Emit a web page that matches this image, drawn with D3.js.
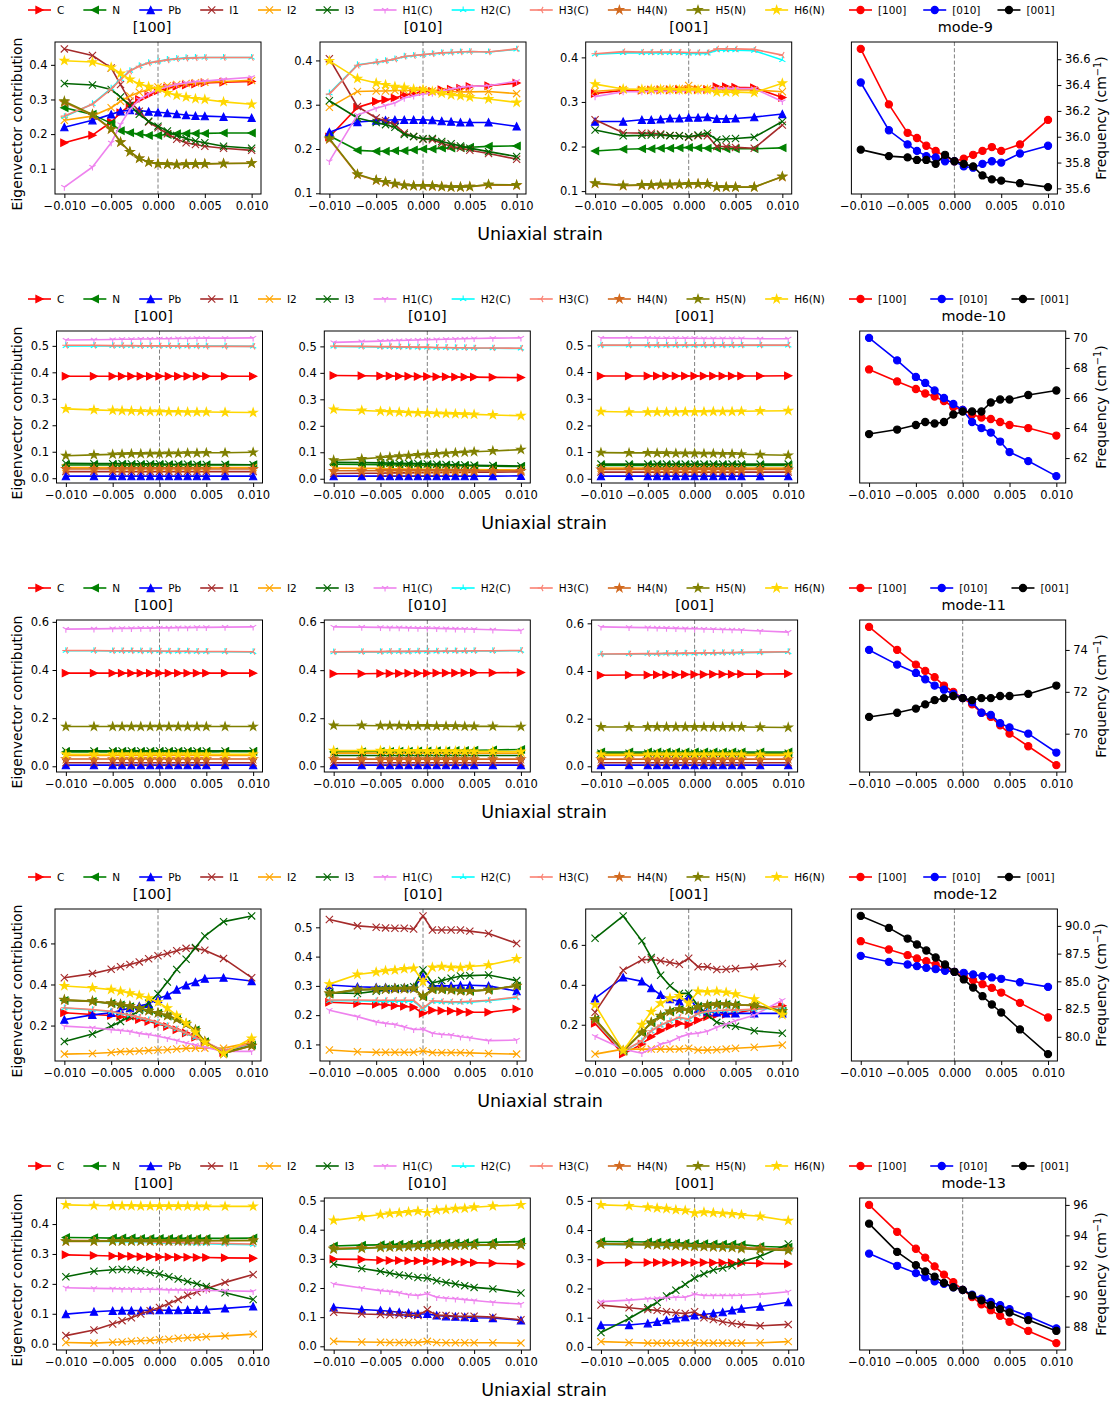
<!DOCTYPE html>
<html>
<head>
<meta charset="utf-8">
<script src="https://cdn.jsdelivr.net/npm/d3@7"></script>
<style>
  html, body { margin: 0; padding: 0; background: #fff; }
  svg { display: block; font-family: "DejaVu Sans", sans-serif; }
</style>
</head>
<body>
<svg id="fig" width="1120" height="1405"></svg>
<script>
// ---- strain grid and labels ----
const strain = [-0.010, -0.007, -0.005, -0.004, -0.003, -0.002, -0.001, 0.000, 0.001, 0.002, 0.003, 0.004, 0.005, 0.007, 0.010];
const species = ["C", "N", "Pb", "I1", "I2", "I3", "H1(C)", "H2(C)", "H3(C)", "H4(N)", "H5(N)", "H6(N)"];
const directions = ["[100]", "[010]", "[001]"];
const strainTicks = [-0.010, -0.005, 0.000, 0.005, 0.010];
const strainTickLabels = ["\u22120.010", "\u22120.005", "0.000", "0.005", "0.010"];

// ---- mode-9 eigenvector contributions ----
const m9_100 = {
  "C":     [0.175,0.197,0.235,0.262,0.283,0.300,0.313,0.325,0.333,0.338,0.342,0.345,0.348,0.350,0.352],
  "N":     [0.276,0.257,0.231,0.210,0.204,0.200,0.196,0.196,0.199,0.201,0.202,0.202,0.202,0.203,0.203],
  "Pb":    [0.220,0.240,0.257,0.266,0.269,0.268,0.265,0.263,0.261,0.258,0.255,0.253,0.252,0.250,0.247],
  "I1":    [0.446,0.427,0.391,0.343,0.295,0.266,0.235,0.218,0.201,0.185,0.175,0.170,0.165,0.159,0.153],
  "I2":    [0.240,0.252,0.276,0.295,0.310,0.321,0.329,0.336,0.340,0.343,0.346,0.348,0.350,0.352,0.355],
  "I3":    [0.346,0.342,0.329,0.307,0.283,0.257,0.237,0.223,0.209,0.196,0.187,0.180,0.175,0.165,0.159],
  "H1(C)": [0.047,0.105,0.175,0.228,0.271,0.300,0.316,0.329,0.337,0.343,0.348,0.351,0.353,0.358,0.364],
  "H2(C)": [0.250,0.287,0.332,0.359,0.383,0.397,0.406,0.410,0.415,0.418,0.420,0.421,0.421,0.421,0.421],
  "H3(C)": [0.252,0.286,0.330,0.357,0.382,0.396,0.405,0.410,0.414,0.417,0.419,0.420,0.421,0.421,0.421],
  "H4(N)": [0.292,0.255,0.214,0.176,0.149,0.130,0.119,0.114,0.113,0.112,0.113,0.113,0.114,0.115,0.116],
  "H5(N)": [0.295,0.257,0.215,0.177,0.149,0.130,0.119,0.114,0.113,0.112,0.113,0.114,0.114,0.115,0.116],
  "H6(N)": [0.412,0.408,0.393,0.375,0.358,0.345,0.337,0.331,0.319,0.312,0.307,0.302,0.300,0.293,0.286]
};
const m9_010 = {
  "C":     [0.227,0.294,0.307,0.311,0.315,0.322,0.326,0.330,0.330,0.334,0.335,0.337,0.341,0.343,0.349],
  "N":     [0.230,0.197,0.195,0.195,0.196,0.196,0.198,0.200,0.200,0.202,0.202,0.203,0.204,0.206,0.207],
  "Pb":    [0.238,0.261,0.264,0.265,0.266,0.266,0.266,0.266,0.265,0.263,0.262,0.260,0.260,0.260,0.251],
  "I1":    [0.404,0.296,0.270,0.264,0.255,0.236,0.228,0.222,0.221,0.213,0.206,0.202,0.197,0.190,0.177],
  "I2":    [0.294,0.330,0.331,0.331,0.332,0.332,0.332,0.334,0.331,0.330,0.330,0.329,0.329,0.330,0.325],
  "I3":    [0.309,0.270,0.260,0.255,0.249,0.233,0.228,0.223,0.224,0.217,0.212,0.207,0.202,0.194,0.183],
  "H1(C)": [0.172,0.277,0.292,0.298,0.304,0.315,0.320,0.324,0.326,0.331,0.335,0.339,0.341,0.343,0.353],
  "H2(C)": [0.326,0.390,0.396,0.399,0.403,0.409,0.411,0.413,0.415,0.417,0.418,0.419,0.420,0.419,0.425],
  "H3(C)": [0.324,0.389,0.396,0.399,0.403,0.409,0.411,0.413,0.415,0.417,0.418,0.419,0.420,0.419,0.426],
  "H4(N)": [0.222,0.142,0.129,0.125,0.121,0.118,0.117,0.117,0.116,0.115,0.114,0.114,0.115,0.119,0.118],
  "H5(N)": [0.224,0.143,0.130,0.126,0.122,0.118,0.117,0.117,0.117,0.115,0.114,0.114,0.115,0.120,0.119],
  "H6(N)": [0.399,0.359,0.349,0.345,0.341,0.339,0.335,0.334,0.330,0.326,0.322,0.320,0.317,0.313,0.305]
};
const m9_001 = {
  "C":     [0.319,0.326,0.326,0.327,0.327,0.327,0.328,0.328,0.328,0.328,0.334,0.334,0.333,0.332,0.310],
  "N":     [0.190,0.194,0.195,0.195,0.196,0.196,0.197,0.198,0.197,0.196,0.196,0.195,0.195,0.195,0.197],
  "Pb":    [0.256,0.256,0.260,0.260,0.261,0.263,0.263,0.265,0.265,0.266,0.262,0.262,0.263,0.266,0.273],
  "I1":    [0.260,0.231,0.230,0.230,0.228,0.225,0.224,0.221,0.224,0.224,0.200,0.200,0.198,0.196,0.248],
  "I2":    [0.324,0.328,0.328,0.328,0.329,0.329,0.330,0.337,0.330,0.329,0.328,0.328,0.327,0.327,0.323],
  "I3":    [0.237,0.224,0.225,0.226,0.226,0.224,0.224,0.222,0.226,0.230,0.215,0.217,0.218,0.221,0.256],
  "H1(C)": [0.312,0.323,0.323,0.323,0.324,0.324,0.324,0.325,0.325,0.325,0.330,0.330,0.330,0.330,0.301],
  "H2(C)": [0.407,0.410,0.410,0.410,0.410,0.410,0.410,0.409,0.409,0.409,0.416,0.416,0.416,0.415,0.394],
  "H3(C)": [0.408,0.413,0.412,0.412,0.412,0.412,0.412,0.411,0.411,0.411,0.419,0.419,0.419,0.418,0.405],
  "H4(N)": [0.117,0.112,0.113,0.113,0.114,0.114,0.115,0.116,0.116,0.116,0.109,0.109,0.109,0.109,0.132],
  "H5(N)": [0.118,0.113,0.114,0.114,0.115,0.115,0.115,0.116,0.116,0.116,0.109,0.109,0.109,0.109,0.133],
  "H6(N)": [0.340,0.329,0.328,0.328,0.328,0.328,0.327,0.327,0.327,0.327,0.322,0.322,0.322,0.321,0.342]
};
const freq9 = {
  "[100]": [36.68,36.25,36.03,35.99,35.93,35.89,35.85,35.81,35.83,35.86,35.89,35.92,35.89,35.94,36.13],
  "[010]": [36.42,36.05,35.94,35.89,35.85,35.84,35.81,35.81,35.77,35.76,35.79,35.81,35.80,35.87,35.93],
  "[001]": [35.90,35.85,35.84,35.82,35.82,35.79,35.86,35.81,35.79,35.77,35.70,35.67,35.66,35.64,35.61]
};

// ---- mode-10 ----
const m10_100 = {
  "C":     [0.385,0.385,0.385,0.385,0.385,0.385,0.385,0.385,0.385,0.385,0.385,0.385,0.385,0.385,0.385],
  "N":     [0.050,0.050,0.050,0.050,0.050,0.050,0.050,0.050,0.050,0.050,0.050,0.050,0.050,0.050,0.051],
  "Pb":    [0.008,0.008,0.008,0.008,0.008,0.008,0.008,0.008,0.008,0.008,0.008,0.008,0.008,0.008,0.008],
  "I1":    [0.025,0.025,0.025,0.025,0.025,0.025,0.025,0.025,0.025,0.025,0.025,0.025,0.025,0.025,0.025],
  "I2":    [0.040,0.040,0.040,0.040,0.040,0.040,0.040,0.040,0.040,0.040,0.040,0.040,0.040,0.040,0.040],
  "I3":    [0.056,0.055,0.055,0.055,0.054,0.054,0.054,0.054,0.053,0.053,0.053,0.052,0.052,0.052,0.051],
  "H1(C)": [0.522,0.523,0.524,0.525,0.525,0.526,0.526,0.527,0.527,0.528,0.528,0.529,0.529,0.529,0.530],
  "H2(C)": [0.500,0.500,0.500,0.500,0.500,0.500,0.500,0.500,0.500,0.499,0.499,0.499,0.499,0.499,0.498],
  "H3(C)": [0.502,0.502,0.501,0.501,0.501,0.500,0.500,0.500,0.500,0.499,0.499,0.499,0.498,0.498,0.498],
  "H4(N)": [0.035,0.035,0.035,0.035,0.035,0.035,0.035,0.035,0.035,0.035,0.035,0.035,0.035,0.035,0.035],
  "H5(N)": [0.085,0.088,0.090,0.091,0.092,0.092,0.093,0.093,0.094,0.094,0.095,0.095,0.096,0.096,0.098],
  "H6(N)": [0.262,0.258,0.256,0.255,0.254,0.253,0.252,0.252,0.251,0.251,0.250,0.250,0.250,0.249,0.248]
};
const m10_010 = {
  "C":     [0.390,0.389,0.388,0.388,0.387,0.387,0.386,0.386,0.385,0.385,0.384,0.384,0.384,0.383,0.382],
  "N":     [0.055,0.054,0.053,0.053,0.052,0.052,0.051,0.051,0.050,0.050,0.049,0.049,0.048,0.047,0.046],
  "Pb":    [0.010,0.010,0.010,0.010,0.010,0.010,0.010,0.010,0.010,0.010,0.010,0.010,0.010,0.010,0.011],
  "I1":    [0.020,0.021,0.021,0.022,0.022,0.022,0.023,0.023,0.023,0.024,0.024,0.024,0.025,0.025,0.026],
  "I2":    [0.040,0.039,0.039,0.038,0.038,0.037,0.037,0.036,0.036,0.036,0.035,0.035,0.035,0.034,0.033],
  "I3":    [0.062,0.061,0.060,0.059,0.058,0.058,0.057,0.056,0.055,0.054,0.053,0.052,0.051,0.050,0.048],
  "H1(C)": [0.515,0.518,0.520,0.521,0.522,0.523,0.524,0.525,0.526,0.527,0.528,0.529,0.530,0.531,0.532],
  "H2(C)": [0.500,0.499,0.498,0.498,0.497,0.497,0.496,0.496,0.495,0.495,0.494,0.494,0.493,0.493,0.492],
  "H3(C)": [0.501,0.500,0.499,0.499,0.498,0.498,0.497,0.497,0.496,0.496,0.495,0.495,0.494,0.494,0.493],
  "H4(N)": [0.030,0.030,0.030,0.030,0.030,0.030,0.030,0.030,0.030,0.030,0.030,0.030,0.030,0.030,0.030],
  "H5(N)": [0.070,0.075,0.080,0.082,0.085,0.087,0.090,0.092,0.094,0.096,0.098,0.100,0.102,0.105,0.110],
  "H6(N)": [0.262,0.258,0.255,0.253,0.252,0.250,0.249,0.248,0.247,0.246,0.245,0.244,0.243,0.241,0.238]
};
const m10_001 = {
  "C":     [0.385,0.385,0.385,0.385,0.385,0.385,0.385,0.385,0.385,0.385,0.385,0.385,0.385,0.385,0.386],
  "N":     [0.050,0.050,0.050,0.050,0.050,0.050,0.050,0.050,0.050,0.050,0.050,0.050,0.050,0.050,0.050],
  "Pb":    [0.010,0.010,0.010,0.010,0.010,0.010,0.010,0.010,0.010,0.010,0.010,0.010,0.010,0.010,0.010],
  "I1":    [0.025,0.025,0.025,0.025,0.025,0.025,0.025,0.025,0.025,0.025,0.025,0.025,0.025,0.025,0.025],
  "I2":    [0.040,0.040,0.040,0.040,0.040,0.040,0.040,0.040,0.040,0.040,0.040,0.040,0.040,0.040,0.040],
  "I3":    [0.055,0.055,0.055,0.055,0.055,0.055,0.055,0.055,0.055,0.055,0.055,0.055,0.055,0.055,0.055],
  "H1(C)": [0.528,0.528,0.528,0.527,0.527,0.527,0.527,0.527,0.526,0.526,0.526,0.526,0.526,0.525,0.525],
  "H2(C)": [0.500,0.500,0.500,0.500,0.500,0.500,0.500,0.500,0.500,0.500,0.500,0.500,0.500,0.500,0.500],
  "H3(C)": [0.501,0.501,0.501,0.501,0.501,0.501,0.501,0.501,0.501,0.501,0.501,0.501,0.501,0.501,0.501],
  "H4(N)": [0.035,0.035,0.035,0.035,0.035,0.035,0.035,0.035,0.035,0.035,0.035,0.035,0.035,0.035,0.035],
  "H5(N)": [0.098,0.097,0.097,0.096,0.096,0.095,0.095,0.095,0.094,0.094,0.093,0.093,0.092,0.090,0.088],
  "H6(N)": [0.252,0.250,0.250,0.250,0.250,0.250,0.251,0.251,0.251,0.252,0.252,0.252,0.253,0.254,0.255]
};
const freq10 = {
  "[100]": [67.9,67.1,66.6,66.3,66.1,65.8,65.4,65.2,64.9,64.7,64.6,64.4,64.2,64.0,63.5],
  "[010]": [70.0,68.5,67.4,67.0,66.5,66.0,65.6,65.2,64.4,64.0,63.7,63.1,62.4,61.8,60.8],
  "[001]": [63.6,63.9,64.2,64.4,64.3,64.4,64.9,65.1,65.1,65.1,65.7,65.9,65.9,66.2,66.5]
};

// ---- mode-11 ----
const m11_100 = {
  "C":     [0.387,0.387,0.387,0.387,0.387,0.387,0.387,0.387,0.387,0.387,0.387,0.387,0.387,0.387,0.387],
  "N":     [0.060,0.060,0.060,0.060,0.060,0.060,0.060,0.060,0.060,0.060,0.060,0.060,0.060,0.061,0.061],
  "Pb":    [0.005,0.005,0.005,0.005,0.005,0.005,0.005,0.005,0.005,0.005,0.005,0.005,0.005,0.005,0.005],
  "I1":    [0.015,0.015,0.015,0.015,0.015,0.015,0.015,0.015,0.015,0.015,0.015,0.015,0.015,0.015,0.015],
  "I2":    [0.045,0.045,0.045,0.045,0.045,0.045,0.045,0.045,0.045,0.045,0.045,0.045,0.045,0.045,0.045],
  "I3":    [0.064,0.064,0.064,0.064,0.064,0.064,0.064,0.064,0.064,0.064,0.064,0.064,0.064,0.064,0.064],
  "H1(C)": [0.570,0.571,0.572,0.573,0.573,0.574,0.574,0.575,0.575,0.576,0.576,0.577,0.577,0.578,0.579],
  "H2(C)": [0.480,0.480,0.479,0.479,0.479,0.478,0.478,0.478,0.477,0.477,0.477,0.476,0.476,0.476,0.475],
  "H3(C)": [0.481,0.481,0.480,0.480,0.480,0.479,0.479,0.479,0.478,0.478,0.478,0.477,0.477,0.477,0.476],
  "H4(N)": [0.030,0.030,0.030,0.030,0.030,0.030,0.030,0.030,0.030,0.030,0.030,0.030,0.030,0.030,0.030],
  "H5(N)": [0.165,0.165,0.165,0.165,0.165,0.165,0.165,0.165,0.165,0.165,0.165,0.165,0.165,0.165,0.165],
  "H6(N)": [0.050,0.050,0.050,0.050,0.050,0.050,0.050,0.050,0.050,0.050,0.050,0.050,0.050,0.050,0.050]
};
const m11_010 = {
  "C":     [0.385,0.385,0.386,0.386,0.386,0.387,0.387,0.387,0.388,0.388,0.388,0.389,0.389,0.389,0.390],
  "N":     [0.060,0.061,0.062,0.062,0.063,0.063,0.064,0.064,0.065,0.065,0.066,0.066,0.067,0.068,0.070],
  "Pb":    [0.005,0.005,0.005,0.005,0.005,0.005,0.005,0.005,0.005,0.005,0.005,0.005,0.005,0.005,0.005],
  "I1":    [0.015,0.015,0.015,0.015,0.015,0.015,0.015,0.015,0.015,0.015,0.015,0.015,0.015,0.015,0.015],
  "I2":    [0.055,0.055,0.055,0.055,0.055,0.055,0.055,0.055,0.055,0.055,0.055,0.055,0.055,0.055,0.055],
  "I3":    [0.045,0.045,0.045,0.045,0.045,0.045,0.045,0.045,0.045,0.045,0.045,0.045,0.045,0.045,0.045],
  "H1(C)": [0.580,0.579,0.578,0.577,0.577,0.576,0.575,0.575,0.574,0.573,0.572,0.571,0.570,0.568,0.565],
  "H2(C)": [0.475,0.476,0.476,0.477,0.477,0.477,0.478,0.478,0.478,0.479,0.479,0.479,0.480,0.480,0.481],
  "H3(C)": [0.476,0.477,0.477,0.478,0.478,0.478,0.479,0.479,0.479,0.480,0.480,0.480,0.481,0.481,0.482],
  "H4(N)": [0.030,0.030,0.030,0.030,0.030,0.030,0.030,0.030,0.030,0.030,0.030,0.030,0.030,0.030,0.030],
  "H5(N)": [0.170,0.170,0.169,0.169,0.169,0.168,0.168,0.168,0.167,0.167,0.167,0.166,0.166,0.166,0.165],
  "H6(N)": [0.065,0.065,0.065,0.064,0.064,0.064,0.064,0.063,0.063,0.063,0.063,0.062,0.062,0.062,0.061]
};
const m11_001 = {
  "C":     [0.382,0.383,0.383,0.384,0.384,0.384,0.385,0.385,0.385,0.386,0.386,0.386,0.387,0.387,0.388],
  "N":     [0.060,0.060,0.060,0.060,0.060,0.060,0.060,0.060,0.060,0.060,0.060,0.060,0.060,0.060,0.060],
  "Pb":    [0.005,0.005,0.005,0.005,0.005,0.005,0.005,0.005,0.005,0.005,0.005,0.005,0.005,0.005,0.005],
  "I1":    [0.015,0.015,0.015,0.015,0.015,0.015,0.015,0.015,0.015,0.015,0.015,0.015,0.015,0.015,0.015],
  "I2":    [0.045,0.045,0.045,0.045,0.045,0.045,0.045,0.045,0.045,0.045,0.045,0.045,0.045,0.045,0.045],
  "I3":    [0.055,0.055,0.055,0.055,0.055,0.055,0.055,0.055,0.055,0.055,0.055,0.055,0.055,0.055,0.055],
  "H1(C)": [0.585,0.583,0.582,0.581,0.580,0.579,0.578,0.577,0.576,0.575,0.574,0.573,0.572,0.568,0.563],
  "H2(C)": [0.470,0.471,0.472,0.472,0.473,0.473,0.474,0.474,0.475,0.475,0.476,0.476,0.477,0.478,0.480],
  "H3(C)": [0.471,0.472,0.473,0.473,0.474,0.474,0.475,0.475,0.476,0.476,0.477,0.477,0.478,0.479,0.481],
  "H4(N)": [0.030,0.030,0.030,0.030,0.030,0.030,0.030,0.030,0.030,0.030,0.030,0.030,0.030,0.030,0.030],
  "H5(N)": [0.165,0.165,0.165,0.165,0.165,0.165,0.165,0.165,0.165,0.165,0.165,0.165,0.165,0.164,0.163],
  "H6(N)": [0.050,0.050,0.050,0.050,0.050,0.050,0.050,0.050,0.050,0.050,0.050,0.050,0.050,0.050,0.050]
};
const freq11 = {
  "[100]": [75.1,74.0,73.3,73.0,72.7,72.3,72.0,71.7,71.4,71.0,70.8,70.4,70.0,69.4,68.5],
  "[010]": [74.0,73.3,72.9,72.6,72.3,72.1,71.9,71.7,71.5,71.0,70.9,70.5,70.3,70.0,69.1],
  "[001]": [70.8,71.0,71.2,71.4,71.6,71.7,71.8,71.7,71.6,71.7,71.7,71.8,71.8,71.9,72.3]
};

// ---- mode-12 ----
const m12_100 = {
  "C":     [0.262,0.254,0.249,0.244,0.238,0.229,0.220,0.208,0.195,0.180,0.164,0.143,0.118,0.069,0.113],
  "N":     [0.322,0.317,0.307,0.300,0.292,0.282,0.271,0.260,0.247,0.231,0.206,0.178,0.121,0.066,0.105],
  "Pb":    [0.229,0.252,0.262,0.273,0.285,0.295,0.306,0.330,0.347,0.375,0.396,0.412,0.429,0.433,0.417],
  "I1":    [0.433,0.453,0.474,0.486,0.497,0.510,0.525,0.540,0.551,0.564,0.576,0.576,0.567,0.527,0.433],
  "I2":    [0.061,0.064,0.069,0.073,0.074,0.076,0.078,0.081,0.082,0.086,0.089,0.090,0.090,0.090,0.118],
  "I3":    [0.122,0.159,0.197,0.220,0.244,0.273,0.309,0.355,0.412,0.473,0.523,0.580,0.636,0.706,0.734],
  "H1(C)": [0.197,0.189,0.180,0.176,0.171,0.162,0.156,0.148,0.138,0.127,0.115,0.105,0.094,0.074,0.074],
  "H2(C)": [0.285,0.276,0.267,0.258,0.250,0.239,0.227,0.214,0.198,0.182,0.162,0.141,0.120,0.077,0.110],
  "H3(C)": [0.287,0.278,0.269,0.260,0.252,0.241,0.229,0.216,0.200,0.184,0.164,0.143,0.122,0.078,0.113],
  "H4(N)": [0.324,0.318,0.308,0.302,0.294,0.284,0.272,0.261,0.248,0.232,0.207,0.178,0.122,0.064,0.101],
  "H5(N)": [0.326,0.319,0.309,0.303,0.295,0.285,0.273,0.262,0.249,0.233,0.208,0.179,0.122,0.064,0.102],
  "H6(N)": [0.393,0.384,0.375,0.367,0.358,0.347,0.334,0.314,0.285,0.249,0.211,0.167,0.118,0.064,0.138]
};
const m12_010 = {
  "C":     [0.244,0.240,0.237,0.235,0.232,0.230,0.227,0.206,0.217,0.215,0.214,0.212,0.210,0.210,0.221],
  "N":     [0.272,0.286,0.288,0.289,0.290,0.290,0.291,0.263,0.288,0.288,0.286,0.283,0.282,0.286,0.300],
  "Pb":    [0.303,0.297,0.295,0.295,0.294,0.294,0.295,0.331,0.300,0.300,0.300,0.302,0.302,0.300,0.282],
  "I1":    [0.527,0.505,0.500,0.498,0.497,0.497,0.494,0.539,0.491,0.491,0.491,0.491,0.487,0.479,0.445],
  "I2":    [0.081,0.075,0.073,0.073,0.073,0.073,0.073,0.078,0.072,0.072,0.072,0.072,0.071,0.069,0.067],
  "I3":    [0.277,0.274,0.282,0.286,0.290,0.293,0.297,0.354,0.310,0.318,0.326,0.334,0.335,0.337,0.318],
  "H1(C)": [0.217,0.195,0.177,0.172,0.168,0.160,0.151,0.152,0.138,0.134,0.132,0.126,0.123,0.113,0.115],
  "H2(C)": [0.249,0.249,0.248,0.248,0.248,0.248,0.248,0.221,0.246,0.244,0.243,0.243,0.244,0.249,0.260],
  "H3(C)": [0.252,0.252,0.251,0.251,0.251,0.251,0.251,0.224,0.249,0.247,0.246,0.246,0.247,0.251,0.262],
  "H4(N)": [0.274,0.287,0.288,0.289,0.290,0.290,0.291,0.264,0.288,0.288,0.286,0.283,0.282,0.286,0.300],
  "H5(N)": [0.274,0.288,0.289,0.290,0.291,0.291,0.291,0.265,0.289,0.288,0.287,0.284,0.283,0.287,0.301],
  "H6(N)": [0.306,0.339,0.347,0.352,0.354,0.358,0.360,0.314,0.363,0.366,0.363,0.362,0.366,0.371,0.392]
};
const m12_001 = {
  "C":     [0.207,0.053,0.103,0.140,0.170,0.192,0.207,0.200,0.223,0.240,0.250,0.253,0.257,0.278,0.295],
  "N":     [0.225,0.068,0.160,0.210,0.243,0.265,0.276,0.272,0.288,0.296,0.301,0.301,0.299,0.296,0.268],
  "Pb":    [0.332,0.437,0.417,0.383,0.350,0.328,0.317,0.337,0.278,0.267,0.262,0.257,0.257,0.257,0.257],
  "I1":    [0.262,0.473,0.525,0.528,0.520,0.512,0.503,0.533,0.490,0.490,0.477,0.478,0.482,0.490,0.507],
  "I2":    [0.053,0.078,0.078,0.078,0.078,0.078,0.078,0.082,0.073,0.073,0.075,0.078,0.082,0.087,0.098],
  "I3":    [0.633,0.745,0.620,0.537,0.448,0.395,0.357,0.358,0.295,0.248,0.212,0.200,0.192,0.170,0.157],
  "H1(C)": [0.142,0.078,0.057,0.078,0.103,0.115,0.137,0.153,0.157,0.167,0.187,0.203,0.220,0.248,0.323],
  "H2(C)": [0.218,0.065,0.118,0.168,0.196,0.218,0.235,0.226,0.255,0.265,0.268,0.271,0.271,0.276,0.288],
  "H3(C)": [0.220,0.067,0.120,0.170,0.198,0.220,0.237,0.228,0.257,0.267,0.270,0.273,0.273,0.278,0.290],
  "H4(N)": [0.227,0.069,0.161,0.211,0.244,0.266,0.277,0.272,0.289,0.297,0.302,0.302,0.299,0.297,0.269],
  "H5(N)": [0.228,0.070,0.162,0.212,0.245,0.267,0.278,0.273,0.290,0.298,0.303,0.303,0.300,0.298,0.270],
  "H6(N)": [0.300,0.070,0.200,0.265,0.308,0.333,0.345,0.308,0.367,0.365,0.367,0.362,0.353,0.328,0.250]
};
const freq12 = {
  "[100]": [88.62,87.87,87.36,87.06,86.82,86.52,86.16,85.86,85.47,85.10,84.74,84.41,83.99,83.06,81.74],
  "[010]": [87.30,86.76,86.52,86.37,86.22,86.10,85.95,85.86,85.77,85.62,85.47,85.35,85.23,84.92,84.50],
  "[001]": [90.90,89.82,88.86,88.32,87.78,87.15,86.52,85.86,85.17,84.44,83.66,82.91,82.19,80.66,78.44]
};

// ---- mode-13 ----
const m13_100 = {
  "C":     [0.297,0.295,0.293,0.292,0.292,0.291,0.291,0.290,0.290,0.289,0.289,0.288,0.288,0.287,0.286],
  "N":     [0.355,0.354,0.353,0.353,0.353,0.352,0.352,0.352,0.352,0.352,0.352,0.352,0.352,0.352,0.353],
  "Pb":    [0.099,0.107,0.110,0.111,0.111,0.111,0.112,0.112,0.112,0.112,0.113,0.113,0.114,0.118,0.125],
  "I1":    [0.027,0.046,0.066,0.077,0.087,0.099,0.110,0.121,0.134,0.148,0.162,0.173,0.184,0.205,0.231],
  "I2":    [0.004,0.002,0.005,0.006,0.008,0.010,0.011,0.013,0.015,0.018,0.020,0.021,0.023,0.026,0.032],
  "I3":    [0.224,0.242,0.247,0.249,0.247,0.244,0.238,0.233,0.224,0.216,0.208,0.200,0.191,0.170,0.148],
  "H1(C)": [0.187,0.185,0.184,0.183,0.183,0.182,0.182,0.181,0.180,0.180,0.179,0.179,0.178,0.177,0.175],
  "H2(C)": [0.344,0.343,0.342,0.341,0.340,0.339,0.338,0.337,0.336,0.336,0.335,0.334,0.334,0.333,0.331],
  "H3(C)": [0.346,0.345,0.344,0.343,0.342,0.341,0.340,0.339,0.338,0.338,0.337,0.336,0.336,0.335,0.333],
  "H4(N)": [0.342,0.342,0.343,0.343,0.343,0.343,0.343,0.343,0.343,0.343,0.344,0.344,0.344,0.344,0.345],
  "H5(N)": [0.343,0.343,0.343,0.343,0.343,0.343,0.343,0.344,0.344,0.344,0.344,0.344,0.344,0.345,0.345],
  "H6(N)": [0.464,0.462,0.461,0.461,0.461,0.460,0.460,0.460,0.460,0.460,0.460,0.459,0.459,0.459,0.459]
};
const m13_010 = {
  "C":     [0.299,0.298,0.295,0.294,0.294,0.293,0.293,0.293,0.292,0.291,0.290,0.289,0.287,0.285,0.282],
  "N":     [0.344,0.347,0.348,0.349,0.350,0.351,0.351,0.352,0.353,0.354,0.354,0.355,0.356,0.357,0.359],
  "Pb":    [0.134,0.126,0.123,0.120,0.117,0.115,0.111,0.111,0.106,0.103,0.102,0.100,0.098,0.097,0.089],
  "I1":    [0.117,0.111,0.109,0.108,0.108,0.107,0.106,0.125,0.106,0.106,0.103,0.103,0.103,0.100,0.091],
  "I2":    [0.017,0.015,0.014,0.013,0.013,0.013,0.013,0.017,0.013,0.012,0.012,0.012,0.012,0.012,0.011],
  "I3":    [0.282,0.267,0.257,0.251,0.245,0.241,0.236,0.234,0.225,0.219,0.214,0.208,0.202,0.197,0.183],
  "H1(C)": [0.214,0.200,0.191,0.188,0.184,0.177,0.174,0.180,0.168,0.165,0.163,0.160,0.157,0.151,0.145],
  "H2(C)": [0.332,0.335,0.338,0.339,0.340,0.341,0.342,0.343,0.344,0.345,0.345,0.346,0.346,0.347,0.348],
  "H3(C)": [0.334,0.337,0.339,0.340,0.341,0.342,0.343,0.344,0.345,0.346,0.346,0.347,0.347,0.348,0.349],
  "H4(N)": [0.336,0.338,0.340,0.341,0.341,0.342,0.343,0.344,0.345,0.346,0.346,0.347,0.347,0.348,0.348],
  "H5(N)": [0.333,0.336,0.339,0.340,0.341,0.342,0.343,0.344,0.344,0.345,0.346,0.346,0.347,0.347,0.348],
  "H6(N)": [0.432,0.444,0.452,0.456,0.458,0.461,0.464,0.458,0.467,0.469,0.472,0.473,0.477,0.481,0.485]
};
const m13_001 = {
  "C":     [0.288,0.289,0.289,0.289,0.289,0.289,0.289,0.289,0.289,0.288,0.288,0.288,0.287,0.286,0.284],
  "N":     [0.361,0.360,0.359,0.358,0.357,0.356,0.355,0.353,0.353,0.352,0.351,0.351,0.350,0.344,0.341],
  "Pb":    [0.075,0.075,0.081,0.086,0.092,0.098,0.102,0.108,0.111,0.115,0.119,0.125,0.131,0.138,0.153],
  "I1":    [0.143,0.134,0.128,0.125,0.120,0.117,0.114,0.120,0.100,0.094,0.086,0.081,0.077,0.072,0.077],
  "I2":    [0.018,0.015,0.013,0.013,0.013,0.013,0.013,0.014,0.013,0.013,0.013,0.013,0.013,0.014,0.018],
  "I3":    [0.049,0.097,0.134,0.153,0.174,0.194,0.214,0.236,0.250,0.263,0.270,0.278,0.291,0.310,0.352],
  "H1(C)": [0.155,0.160,0.165,0.166,0.168,0.170,0.170,0.180,0.176,0.176,0.176,0.176,0.177,0.180,0.189],
  "H2(C)": [0.350,0.349,0.348,0.347,0.346,0.345,0.344,0.343,0.342,0.341,0.340,0.339,0.338,0.336,0.332],
  "H3(C)": [0.351,0.350,0.349,0.348,0.347,0.346,0.345,0.344,0.343,0.342,0.341,0.340,0.339,0.337,0.333],
  "H4(N)": [0.353,0.352,0.351,0.350,0.349,0.348,0.347,0.345,0.344,0.343,0.342,0.341,0.340,0.337,0.334],
  "H5(N)": [0.352,0.351,0.350,0.349,0.348,0.347,0.346,0.344,0.343,0.342,0.341,0.340,0.336,0.333,0.330],
  "H6(N)": [0.486,0.483,0.478,0.475,0.473,0.469,0.467,0.458,0.461,0.459,0.457,0.455,0.452,0.447,0.432]
};
const freq13 = {
  "[100]": [96.00,94.23,93.12,92.54,91.96,91.42,90.92,90.42,89.95,89.47,89.08,88.71,88.32,87.72,86.92],
  "[010]": [92.80,92.00,91.52,91.24,90.98,90.81,90.59,90.42,90.10,89.84,89.62,89.41,89.15,88.69,87.89],
  "[001]": [94.77,92.91,92.04,91.63,91.29,90.88,90.59,90.42,90.05,89.73,89.41,89.15,88.93,88.43,87.72]
};

// ---- tick labels ----
const eigTicks9  = [["0.1","0.2","0.3","0.4"], ["0.1","0.2","0.3","0.4"], ["0.1","0.2","0.3","0.4"]];
const eigTicks10 = [["0.0","0.1","0.2","0.3","0.4","0.5"], ["0.0","0.1","0.2","0.3","0.4","0.5"], ["0.0","0.1","0.2","0.3","0.4","0.5"]];
const eigTicks11 = [["0.0","0.2","0.4","0.6"], ["0.0","0.2","0.4","0.6"], ["0.0","0.2","0.4","0.6"]];
const eigTicks12 = [["0.2","0.4","0.6"], ["0.1","0.2","0.3","0.4","0.5"], ["0.2","0.4","0.6"]];
const eigTicks13 = [["0.0","0.1","0.2","0.3","0.4"], ["0.0","0.1","0.2","0.3","0.4","0.5"], ["0.0","0.1","0.2","0.3","0.4","0.5"]];
const freqTicks9  = ["35.6","35.8","36.0","36.2","36.4","36.6"];
const freqTicks10 = ["62","64","66","68","70"];
const freqTicks11 = ["70","72","74"];
const freqTicks12 = ["80.0","82.5","85.0","87.5","90.0"];
const freqTicks13 = ["88","90","92","94","96"];

// ---- appearance ----
const seriesStyle = {
  "C":     { color: "red",       marker: "triRight" },
  "N":     { color: "green",     marker: "triLeft" },
  "Pb":    { color: "blue",      marker: "triUp" },
  "I1":    { color: "brown",     marker: "x" },
  "I2":    { color: "orange",    marker: "x" },
  "I3":    { color: "darkgreen", marker: "x" },
  "H1(C)": { color: "violet",    marker: "tri1" },
  "H2(C)": { color: "cyan",      marker: "tri2" },
  "H3(C)": { color: "salmon",    marker: "tri3" },
  "H4(N)": { color: "chocolate", marker: "star" },
  "H5(N)": { color: "olive",     marker: "star" },
  "H6(N)": { color: "gold",      marker: "star" }
};
const dirColor = { "[100]": "red", "[010]": "blue", "[001]": "black" };

const rows = [
  { mode: "mode-9",  panels: [m9_100,  m9_010,  m9_001],  freq: freq9,  eig: eigTicks9,  fticks: freqTicks9,  layout: "A" },
  { mode: "mode-10", panels: [m10_100, m10_010, m10_001], freq: freq10, eig: eigTicks10, fticks: freqTicks10, layout: "B" },
  { mode: "mode-11", panels: [m11_100, m11_010, m11_001], freq: freq11, eig: eigTicks11, fticks: freqTicks11, layout: "B" },
  { mode: "mode-12", panels: [m12_100, m12_010, m12_001], freq: freq12, eig: eigTicks12, fticks: freqTicks12, layout: "A" },
  { mode: "mode-13", panels: [m13_100, m13_010, m13_001], freq: freq13, eig: eigTicks13, fticks: freqTicks13, layout: "B" }
];

// panel geometry
const PW = 206, PH = 152, ROW_STEP = 289, TOP0 = 42;
const layouts = {
  A: { lefts: [55, 320, 585.7, 851.4], xlabel: 540, legGap: 17 },
  B: { lefts: [56.5, 324.3, 591.6, 859.7], xlabel: 544, legGap: 24 }
};
const titleShift = [-6, 0, 0, 11];
const TICK_FS = 11.5, TITLE_FS = 14.4, LEG_FS = 10.5, YLAB_FS = 14, XLAB_FS = 17.5;
const MS = 3.6;  // half marker size

const svg = d3.select("#fig");
svg.append("rect").attr("width", 1120).attr("height", 1405).attr("fill", "#fff");

function markerPath(kind, r) {
  const s = 0.866 * r, h = 0.5 * r;
  switch (kind) {
    case "triRight": return `M${r},0L${-r},${-r}L${-r},${r}Z`;
    case "triLeft":  return `M${-r},0L${r},${-r}L${r},${r}Z`;
    case "triUp":    return `M0,${-r}L${-r},${r}L${r},${r}Z`;
    case "x":        return `M${-r},${-r}L${r},${r}M${-r},${r}L${r},${-r}`;
    case "tri1":     return `M0,0L0,${r}M0,0L${-s},${-h}M0,0L${s},${-h}`;
    case "tri2":     return `M0,0L0,${-r}M0,0L${-s},${h}M0,0L${s},${h}`;
    case "tri3":     return `M0,0L${-r},0M0,0L${h},${-s}M0,0L${h},${s}`;
    case "star": {
      const ro = r * 1.2, ri = ro * 0.381966;
      let d = "";
      for (let i = 0; i < 10; i++) {
        const a = -Math.PI / 2 + i * Math.PI / 5;
        const rr = i % 2 === 0 ? ro : ri;
        d += (i === 0 ? "M" : "L") + (rr * Math.cos(a)).toFixed(2) + "," + (rr * Math.sin(a)).toFixed(2);
      }
      return d + "Z";
    }
    case "circle": return `M${r},0A${r},${r} 0 1,1 ${-r},0A${r},${r} 0 1,1 ${r},0Z`;
  }
}
const filledKinds = new Set(["triRight", "triLeft", "triUp", "star", "circle"]);

function drawMarker(g, kind, color, cx, cy) {
  const filled = filledKinds.has(kind);
  g.append("path")
    .attr("d", markerPath(kind, MS))
    .attr("transform", `translate(${cx},${cy})`)
    .attr("fill", filled ? color : "none")
    .attr("stroke", color)
    .attr("stroke-width", 1.1)
    .attr("stroke-linejoin", "miter");
}

function paddedDomain(vals) {
  const [lo, hi] = d3.extent(vals);
  const pad = (hi - lo) * 0.05;
  return [lo - pad, hi + pad];
}

function styleAxis(gAxis) {
  gAxis.select(".domain").remove();
  gAxis.selectAll(".tick line").attr("stroke", "#000").attr("stroke-width", 1);
  gAxis.selectAll(".tick text").attr("fill", "#000").attr("font-size", TICK_FS)
    .attr("font-family", "DejaVu Sans, sans-serif");
}

function drawFrameAndX(g, x, left, top) {
  const xAxis = g.append("g").attr("transform", `translate(0,${top + PH})`)
    .call(d3.axisBottom(x).tickValues(strainTicks)
      .tickFormat((d, i) => strainTickLabels[i]).tickSize(4).tickPadding(3.5));
  styleAxis(xAxis);
  // dashed zero-strain guide
  g.insert("line", ":first-child")
    .attr("x1", x(0)).attr("x2", x(0)).attr("y1", top).attr("y2", top + PH)
    .attr("stroke", "#808080").attr("stroke-width", 1).attr("stroke-dasharray", "4,2.2");
}

function frame(g, left, top) {
  g.append("rect").attr("x", left).attr("y", top).attr("width", PW).attr("height", PH)
    .attr("fill", "none").attr("stroke", "#000").attr("stroke-width", 1);
}

function eigenPanel(g, data, tickLabels, left, top, title, p) {
  const x = d3.scaleLinear().domain(paddedDomain(strain)).range([left, left + PW]);
  const y = d3.scaleLinear().domain(paddedDomain(species.flatMap(s => data[s]))).range([top + PH, top]);
  const plot = g.append("g");
  drawFrameAndX(plot, x, left, top);
  const line = d3.line().x((d, i) => x(strain[i])).y(d => y(d));
  species.forEach(s => {
    const st = seriesStyle[s];
    const sg = plot.append("g");
    sg.append("path").datum(data[s]).attr("d", line)
      .attr("fill", "none").attr("stroke", st.color).attr("stroke-width", 1.6)
      .attr("stroke-linejoin", "round");
    data[s].forEach((v, i) => drawMarker(sg, st.marker, st.color, x(strain[i]), y(v)));
  });
  const yAxis = g.append("g").attr("transform", `translate(${left},0)`)
    .call(d3.axisLeft(y).tickValues(tickLabels.map(Number))
      .tickFormat((d, i) => tickLabels[i]).tickSize(4).tickPadding(3.5));
  styleAxis(yAxis);
  frame(g, left, top);
  g.append("text").attr("x", left + PW / 2 + titleShift[p]).attr("y", top - 10)
    .attr("text-anchor", "middle").attr("font-size", TITLE_FS).text(title);
}

function freqPanel(g, freq, tickLabels, left, top, title) {
  const x = d3.scaleLinear().domain(paddedDomain(strain)).range([left, left + PW]);
  const y = d3.scaleLinear().domain(paddedDomain(directions.flatMap(d => freq[d]))).range([top + PH, top]);
  const plot = g.append("g");
  drawFrameAndX(plot, x, left, top);
  const line = d3.line().x((d, i) => x(strain[i])).y(d => y(d));
  directions.forEach(dir => {
    const c = dirColor[dir];
    plot.append("path").datum(freq[dir]).attr("d", line)
      .attr("fill", "none").attr("stroke", c).attr("stroke-width", 1.6);
    freq[dir].forEach((v, i) => drawMarker(plot, "circle", c, x(strain[i]), y(v)));
  });
  const yAxis = g.append("g").attr("transform", `translate(${left + PW},0)`)
    .call(d3.axisRight(y).tickValues(tickLabels.map(Number))
      .tickFormat((d, i) => tickLabels[i]).tickSize(4).tickPadding(3.5));
  styleAxis(yAxis);
  frame(g, left, top);
  g.append("text").attr("x", left + PW / 2 + titleShift[3]).attr("y", top - 10)
    .attr("text-anchor", "middle").attr("font-size", TITLE_FS).text(title);
  const yl = g.append("text")
    .attr("transform", `translate(1106,${top + PH / 2}) rotate(-90)`)
    .attr("text-anchor", "middle").attr("font-size", YLAB_FS);
  yl.append("tspan").text("Frequency (cm");
  yl.append("tspan").attr("font-size", YLAB_FS * 0.7).attr("dy", -5).text("\u22121");
  yl.append("tspan").attr("dy", 5).text(")");
}

function legendEntry(g, x, y, color, kind, label) {
  g.append("line").attr("x1", x).attr("x2", x + 23).attr("y1", y).attr("y2", y)
    .attr("stroke", color).attr("stroke-width", 1.6);
  drawMarker(g, kind, color, x + 11.5, y);
  const t = g.append("text").attr("x", x + 29).attr("y", y + 3.8)
    .attr("font-size", LEG_FS).text(label);
  return t.node().getComputedTextLength();
}

rows.forEach((row, r) => {
  const top = TOP0 + r * ROW_STEP;
  const lay = layouts[row.layout];
  const g = svg.append("g");

  // legend for atomic species
  let lx = 28;
  species.forEach(s => {
    const w = legendEntry(g, lx, top - 32, seriesStyle[s].color, seriesStyle[s].marker, s);
    lx += 29 + w + 19;
  });

  row.panels.forEach((data, p) => eigenPanel(g, data, row.eig[p], lay.lefts[p], top, directions[p], p));
  freqPanel(g, row.freq, row.fticks, lay.lefts[3], top, row.mode);

  // legend for strain directions
  let fx = 849;
  directions.forEach(dir => {
    const w = legendEntry(g, fx, top - 32, dirColor[dir], "circle", dir);
    fx += 29 + w + lay.legGap;
  });

  g.append("text")
    .attr("transform", `translate(22,${top + 82}) rotate(-90)`)
    .attr("text-anchor", "middle").attr("font-size", YLAB_FS).text("Eigenvector contribution");
  g.append("text").attr("x", lay.xlabel).attr("y", top + PH + 46)
    .attr("text-anchor", "middle").attr("font-size", XLAB_FS).text("Uniaxial strain");
});
</script>
</body>
</html>
